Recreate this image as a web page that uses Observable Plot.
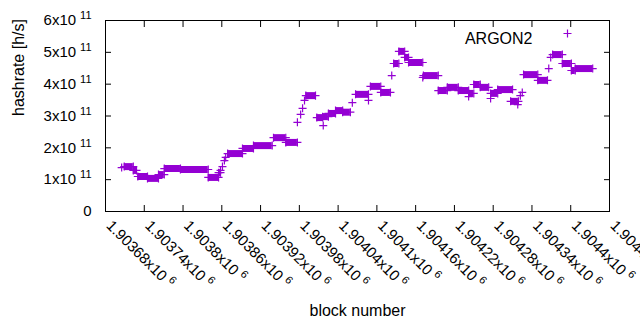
<!DOCTYPE html>
<html><head><meta charset="utf-8">
<script src="https://cdn.jsdelivr.net/npm/d3@7"></script>
<script src="https://cdn.jsdelivr.net/npm/@observablehq/plot@0.6"></script>
<style>body{margin:0;background:#fff}</style>
</head><body><div id="chart"></div>
<script>
// Runs of near-constant hashrate: first block, last block, hashrate [h/s]
const segStart = [1903709,1903723,1903730,1903745,1903762,1903771,1903796,1903839,1903855,1903869,1903892,1903909,1903940,1903959,1903990,1904007,1904016,1904025,1904036,1904047,1904067,1904090,1904106,1904126,1904134,1904143,1904149,1904172,1904195,1904209,1904226,1904242,1904250,1904260,1904276,1904287,1904307,1904327,1904349,1904372,1904387,1904401,1904407];
const segEnd   = [1903723,1903728,1903745,1903762,1903771,1903796,1903839,1903855,1903858,1903892,1903909,1903938,1903959,1903977,1904005,1904016,1904025,1904036,1904047,1904059,1904087,1904106,1904121,1904134,1904143,1904149,1904171,1904195,1904209,1904226,1904242,1904250,1904260,1904273,1904287,1904310,1904319,1904349,1904364,1904387,1904401,1904407,1904434];
const segRate  = [1.41e11,1.29e11,1.10e11,1.04e11,1.16e11,1.35e11,1.32e11,1.07e11,1.22e11,1.82e11,1.98e11,2.07e11,2.32e11,2.17e11,3.64e11,2.95e11,2.98e11,3.08e11,3.17e11,3.12e11,3.68e11,3.93e11,3.74e11,4.65e11,5.03e11,4.84e11,4.68e11,4.27e11,3.80e11,3.90e11,3.80e11,3.71e11,3.99e11,3.90e11,3.71e11,3.83e11,3.46e11,4.30e11,4.12e11,4.93e11,4.65e11,4.43e11,4.49e11];
// Isolated blocks
const singleBlock = [1903705,1903858,1903861,1903864,1903866,1903977,1903982,1903985,1903988,1904017,1904062,1904087,1904123,1904171,1904242,1904276,1904318,1904322,1904325,1904366,1904369];
const singleRate  = [1.38e11,1.29e11,1.41e11,1.60e11,1.70e11,2.80e11,3.05e11,3.24e11,3.49e11,2.70e11,3.42e11,3.49e11,4.27e11,4.21e11,3.61e11,3.55e11,3.36e11,3.64e11,3.74e11,4.49e11,4.84e11];

const xTicks = [1903680,1903740,1903800,1903860,1903920,1903980,1904040,1904100,1904160,1904220,1904280,1904340,1904400,1904460];
const xTickLabels = ["1.90368x10^6","1.90374x10^6","1.9038x10^6","1.90386x10^6","1.90392x10^6","1.90398x10^6","1.90404x10^6","1.9041x10^6","1.90416x10^6","1.90422x10^6","1.90428x10^6","1.90434x10^6","1.9044x10^6","1.90446x10^6"];
const yTicks = [0,1e11,2e11,3e11,4e11,5e11,6e11];
const yTickLabels = ["0","1x10^11","2x10^11","3x10^11","4x10^11","5x10^11","6x10^11"];
const seriesName = "ARGON2";
const xLabel = "block number";
const yLabel = "hashrate [h/s]";

const color = "#9400d3";
const segments = segStart.map((s, i) => ({b1: s, b2: segEnd[i], h: segRate[i]}));
const singles = singleBlock.map((b, i) => ({b, h: singleRate[i]}));
const ends = segments.flatMap(d => [{b: d.b1, h: d.h}, {b: d.b2, h: d.h}]);
const plusR = 2.7;

const chart = Plot.plot({
  width: 640, height: 330,
  marginLeft: 105, marginRight: 31, marginTop: 20, marginBottom: 119,
  style: {fontFamily: "'Liberation Sans', Arial, sans-serif", fontSize: "15px", color: "black", background: "white"},
  x: {domain: [1903680, 1904460]},
  y: {domain: [0, 6e11]},
  marks: [
    Plot.ruleY(segments, {y: "h", x1: "b1", x2: "b2", stroke: color, strokeWidth: 7}),
    Plot.dot(ends, {x: "b", y: "h", symbol: "plus", r: plusR, stroke: color, strokeWidth: 1.2}),
    Plot.dot(singles, {x: "b", y: "h", symbol: "plus", r: plusR, stroke: color, strokeWidth: 1.2}),
    Plot.axisY(yTicks, {anchor: "left", tickSize: -6, tickFormat: () => "", label: null}),
    Plot.axisY(yTicks, {anchor: "right", tickSize: -6, tickFormat: () => "", label: null}),
    Plot.axisX(xTicks, {anchor: "bottom", tickSize: -6, tickFormat: () => "", label: null}),
    Plot.axisX(xTicks, {anchor: "top", tickSize: -6, tickFormat: () => "", label: null}),
    Plot.frame({stroke: "black"}),
    Plot.text(yTicks, {y: d => d, frameAnchor: "left", dx: -14, textAnchor: "end", text: (d, i) => yTickLabels[i], fontSize: 15, className: "sup"}),
    Plot.text(xTicks, {x: d => d, frameAnchor: "bottom", dy: 15, rotate: 45, textAnchor: "start", text: (d, i) => xTickLabels[i], fontSize: 15, className: "sup"}),
    Plot.text([yLabel], {frameAnchor: "left", dx: -87, rotate: -90, fontSize: 16}),
    Plot.text([xLabel], {frameAnchor: "bottom", dy: 104, fontSize: 16}),
    Plot.text([seriesName], {frameAnchor: "top-right", dx: -77, dy: 12, textAnchor: "end", fontSize: 16}),
    Plot.dot([seriesName], {frameAnchor: "top-right", dx: -42, dy: 13, symbol: "plus", r: plusR, stroke: color, strokeWidth: 1.2})
  ]
});

for (const t of chart.querySelectorAll(".sup text")) {
  const s = t.textContent;
  const k = s.indexOf("^");
  if (k < 0) continue;
  t.textContent = s.slice(0, k);
  const ts = document.createElementNS("http://www.w3.org/2000/svg", "tspan");
  ts.setAttribute("dy", "-6");
  ts.setAttribute("dx", "4");
  ts.setAttribute("font-size", "11");
  ts.textContent = s.slice(k + 1);
  t.appendChild(ts);
}
document.getElementById("chart").appendChild(chart);
</script>
</body></html>
